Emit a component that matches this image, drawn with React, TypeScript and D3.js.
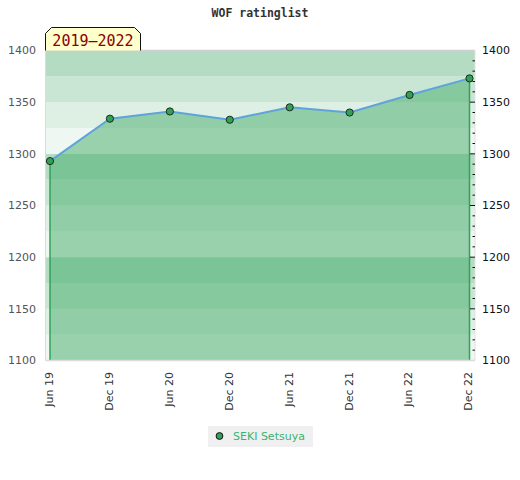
import * as d3 from "d3";

const MONTHS = ["Jun 19", "Dec 19", "Jun 20", "Dec 20", "Jun 21", "Dec 21", "Jun 22", "Dec 22"];
const RATINGS = [1293, 1334, 1341, 1333, 1345, 1340, 1357, 1373];
const Y_TICKS = [1100, 1150, 1200, 1250, 1300, 1350, 1400];
const BAND_COLORS = ["#b3dcc3", "#c8e6d3", "#deefe4", "#eef7f1"];

const W = 520;
const H = 480;
const PLOT = { left: 45.5, right: 475, top: 50.5, bottom: 360.5 };

const x = d3.scalePoint<string>().domain(MONTHS).range([50, 469.5]);
const y = d3.scaleLinear().domain([1100, 1400]).range([PLOT.bottom, PLOT.top]);

const FONT = "DejaVu Sans, sans-serif";
const MONO = "DejaVu Sans Mono, monospace";

export default function App() {
  const pts = MONTHS.map((m, i) => ({ m, v: RATINGS[i] }));

  const area = d3
    .area<{ m: string; v: number }>()
    .x((d) => x(d.m)!)
    .y0(y(1100))
    .y1((d) => y(d.v));
  const line = d3
    .line<{ m: string; v: number }>()
    .x((d) => x(d.m)!)
    .y((d) => y(d.v));

  // 背景の帯（25刻み、100ごとに4色を繰り返す）
  const bands = d3.range(1100, 1400, 25).map((v) => ({
    v,
    color: BAND_COLORS[((1400 - (v + 25)) / 25) % 4],
  }));

  const first = pts[0];
  const last = pts[pts.length - 1];

  return (
    <svg width={W} height={H} style={{ position: "absolute", left: 0, top: 0 }}>
      <rect width={W} height={H} fill="#fff" />

      {/* title */}
      <text x={260} y={17} textAnchor="middle" fontFamily={MONO} fontWeight="bold" fontSize={11.5} fill="#333">
        WOF ratinglist
      </text>

      {/* bands */}
      {bands.map((b) => (
        <rect
          key={b.v}
          x={PLOT.left}
          y={y(b.v + 25)}
          width={PLOT.right - PLOT.left}
          height={y(b.v) - y(b.v + 25)}
          fill={b.color}
        />
      ))}

      {/* area */}
      <path d={area(pts) ?? ""} fill="#43ac69" fillOpacity={0.5} />
      <line x1={x(first.m)} x2={x(first.m)} y1={y(first.v)} y2={y(1100)} stroke="#2ea455" strokeWidth={1.5} />
      <line x1={x(last.m)} x2={x(last.m)} y1={y(last.v)} y2={y(1100)} stroke="#2ea455" strokeWidth={1.5} />
      <path d={line(pts) ?? ""} fill="none" stroke="#5fa3dc" strokeWidth={2} />

      {/* plot frame */}
      <line x1={PLOT.left} x2={PLOT.right} y1={PLOT.top} y2={PLOT.top} stroke="#cfcfcf" strokeWidth={1.5} />
      <line x1={PLOT.left} x2={PLOT.right} y1={PLOT.bottom} y2={PLOT.bottom} stroke="#dcdcdc" strokeWidth={1.5} />
      <line x1={PLOT.left} x2={PLOT.left} y1={PLOT.top} y2={PLOT.bottom} stroke="#dcdcdc" strokeWidth={1} />
      <line x1={PLOT.right} x2={PLOT.right} y1={PLOT.top} y2={PLOT.bottom} stroke="#e2e2e2" strokeWidth={1} />

      {/* points */}
      {pts.map((d) => (
        <circle key={d.m} cx={x(d.m)} cy={y(d.v)} r={3.6} fill="#33a05a" stroke="#1a2e1a" strokeWidth={1} />
      ))}

      {/* right axis ticks */}
      {d3.range(1110, 1400, 10).map((v) => (
        <line
          key={v}
          x1={v % 50 === 0 ? 470 : 472.5}
          x2={475}
          y1={y(v)}
          y2={y(v)}
          stroke="#111"
          strokeWidth={1}
        />
      ))}

      {/* y labels */}
      {Y_TICKS.map((v) => (
        <g key={v}>
          <text x={36} y={y(v)} dy="0.35em" textAnchor="end" fontFamily={FONT} fontSize={11} fill="#555">
            {v}
          </text>
          <text x={482} y={y(v)} dy="0.35em" textAnchor="start" fontFamily={FONT} fontSize={11} fill="#111">
            {v}
          </text>
        </g>
      ))}

      {/* x labels */}
      {MONTHS.map((m) => (
        <text
          key={m}
          transform={`translate(${x(m)! - 1},372) rotate(-90)`}
          dy="0.35em"
          textAnchor="end"
          fontFamily={FONT}
          fontSize={11}
          fill="#333"
        >
          {m}
        </text>
      ))}

      {/* period badge */}
      <path d="M45.5,50.5 L45.5,33.5 L51.5,27.5 L134.5,27.5 L140.5,33.5 L140.5,50.5" fill="#ffffcc" stroke="#111" strokeWidth={1} />
      <text x={93} y={45.5} textAnchor="middle" fontFamily={MONO} fontSize={15} fill="#8b0000">
        2019–2022
      </text>

      {/* legend */}
      <rect x={208} y={426} width={105} height={21} fill="#f0f0f0" />
      <circle cx={219.5} cy={436} r={3.4} fill="#33a05a" stroke="#111" strokeWidth={1} />
      <text x={233} y={440} fontFamily={FONT} fontSize={11} fill="#3cb371">
        SEKI Setsuya
      </text>
    </svg>
  );
}
